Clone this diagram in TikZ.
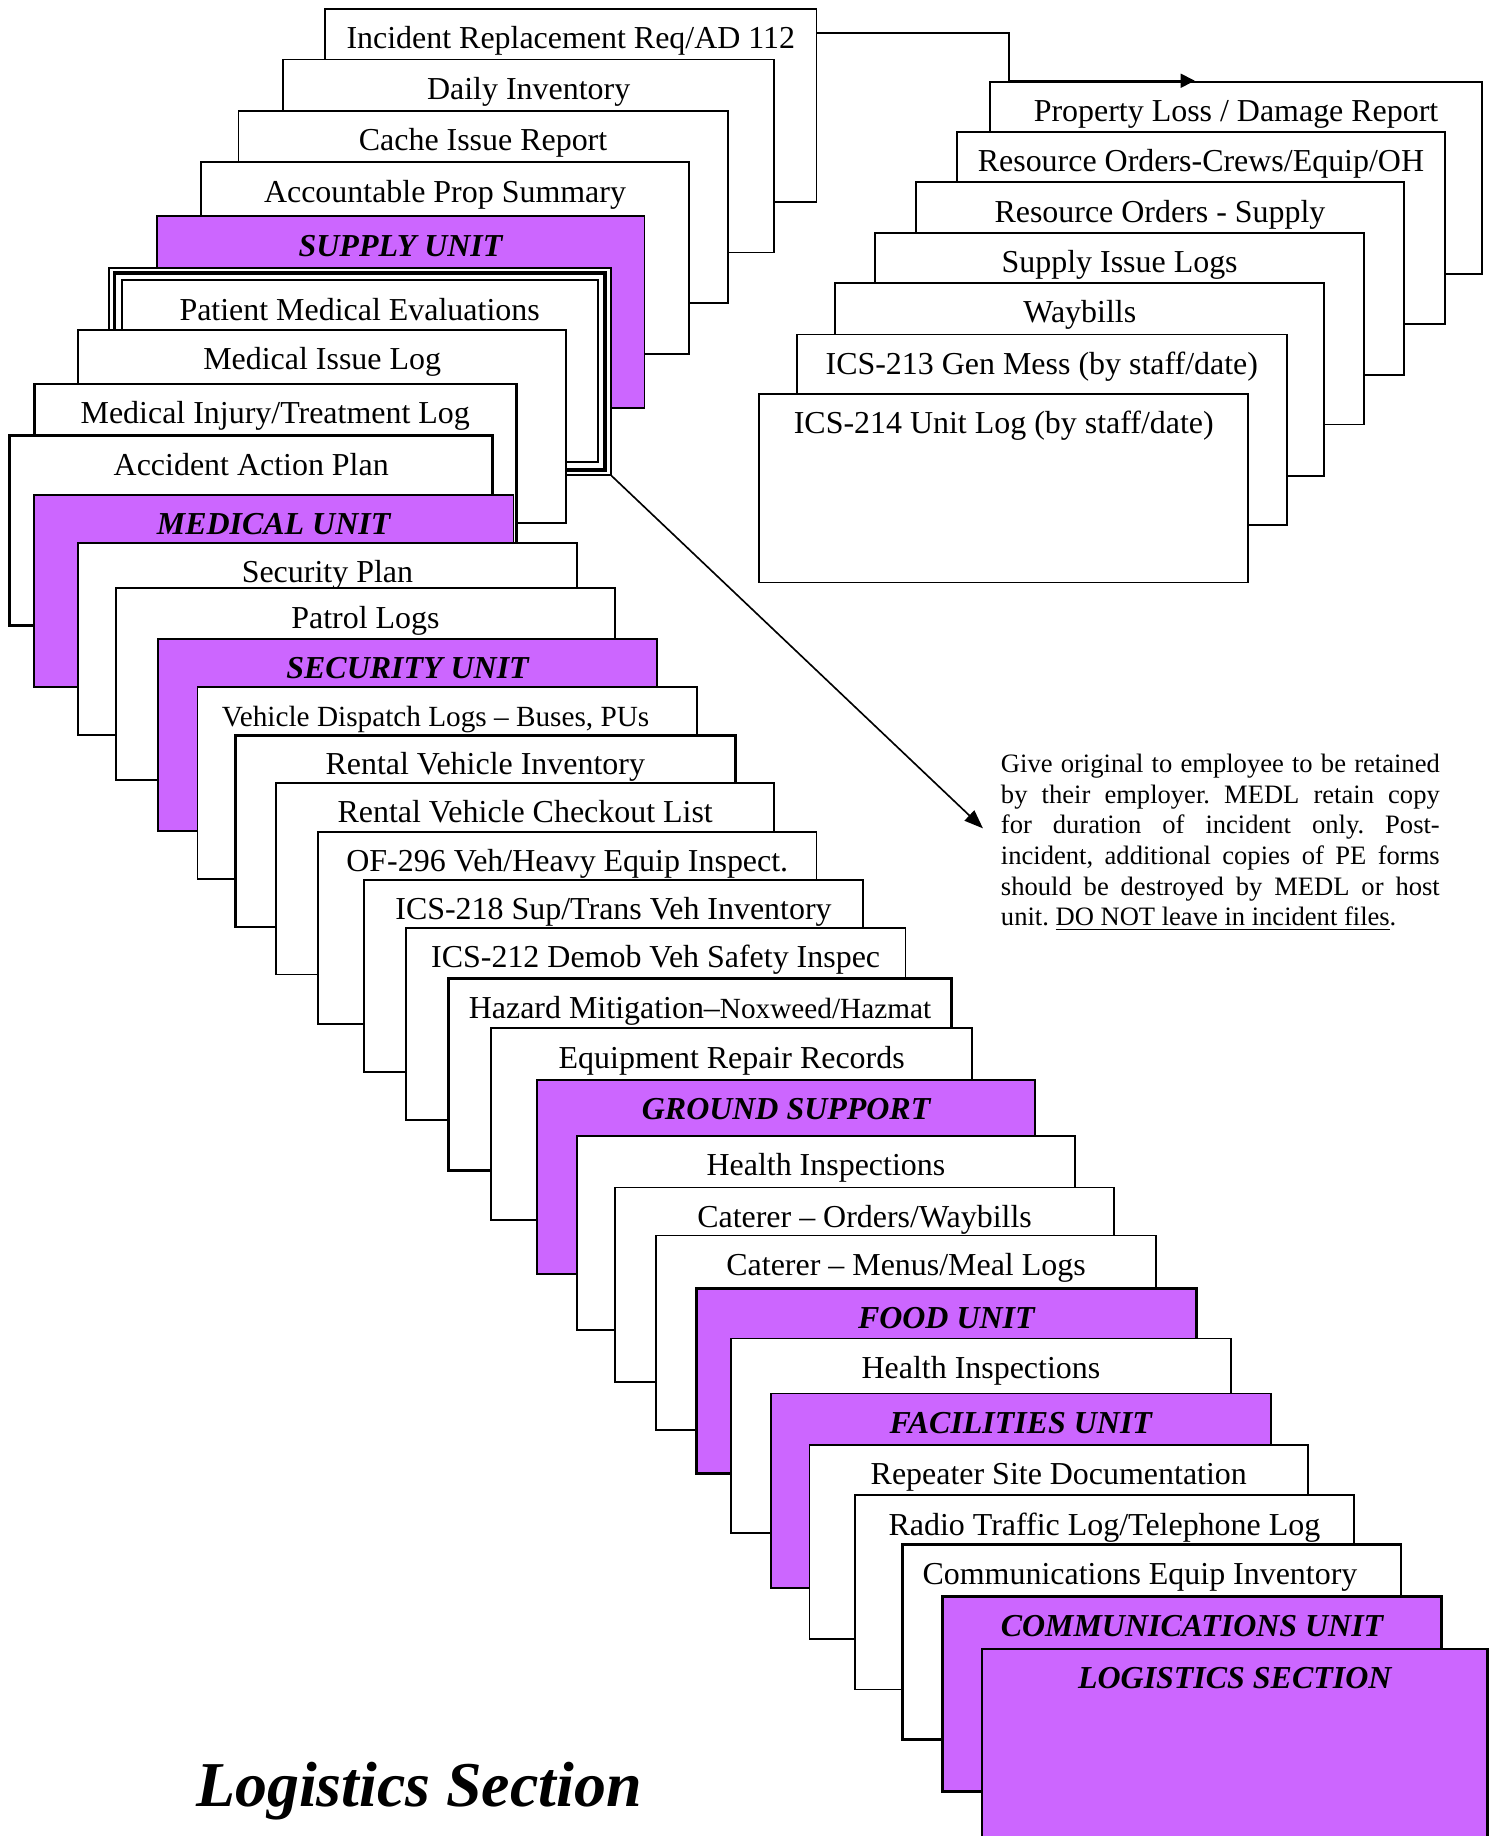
\documentclass[tikz,border=0pt]{standalone}
\usepackage{fontspec}
\setmainfont{Liberation Serif}
\usetikzlibrary{arrows.meta}
\definecolor{unitfill}{RGB}{204,102,255}
\newcommand{\boxfont}{\fontsize{13.65pt}{16pt}\selectfont}
\newcommand{\smallboxfont}{\fontsize{12.5pt}{15pt}\selectfont}
\frenchspacing

\begin{document}
\begin{tikzpicture}[x=0.5pt, y=-0.5pt,
        box/.style = {rectangle, draw, fill=white, line width=0.8pt, anchor=north west,
                      inner xsep=0pt, inner ysep=0pt, minimum width=213pt,
                      text height=17pt, text depth=65pt, font=\boxfont},
       tbox/.style = {box, line width=1.2pt},
       unit/.style = {box, fill=unitfill, font=\boxfont\bfseries\itshape},
       link/.style = {line width=0.7pt}
                    ]
\useasboundingbox (0,0) rectangle (1275,1569);

\node (inc)      [box, minimum width=210pt, text depth=65.5pt] at (277,7)  {Incident Replacement Req/AD 112};
\node (daily)    [box, minimum width=210pt, text depth=65.5pt] at (241,50) {Daily Inventory};
\node (cache)    [box, minimum width=209pt] at (203,94)  {Cache Issue Report};
\node (accprop)  [box, minimum width=208.5pt] at (171,138) {Accountable Prop Summary};
\node (supply)   [unit, minimum width=208.5pt] at (133,184) {SUPPLY UNIT};
\node (pme)      [box, minimum width=214.5pt, text height=22.5pt, text depth=66pt] at (92,228) {Patient Medical Evaluations};
\draw[line width=1.5pt] ([shift={(6,5.5)}]pme.north west) rectangle ([shift={(-5.5,-5)}]pme.south east);
\draw[line width=0.8pt] ([shift={(12,11.5)}]pme.north west) rectangle ([shift={(-11.5,-12)}]pme.south east);
\node (medlog)   [box, minimum width=208.5pt, text depth=65.5pt] at (66,281) {Medical Issue Log};
\node (medinj)   [tbox, minimum width=206pt] at (28,327) {Medical Injury/Treatment Log};
\node (aap)      [tbox, minimum width=206.5pt, text depth=64pt] at (7,371) {Accident Action Plan};
\node (medunit)  [unit, minimum width=205pt] at (28,422) {MEDICAL UNIT};
\node (secplan)  [box] at (66,463) {Security Plan};
\node (patrol)   [box, minimum width=213.5pt] at (98,502) {Patrol Logs};
\node (secunit)  [unit, minimum width=213.5pt] at (134,545) {SECURITY UNIT};
\node (vehdisp)  [box, minimum width=213.5pt] at (168,586) {\smallboxfont Vehicle Dispatch Logs – Buses, PUs\hspace*{10pt}};
\node (rentinv)  [tbox, minimum width=213.5pt] at (200,627) {Rental Vehicle Inventory};
\node (rentchk)  [box] at (235,668) {Rental Vehicle Checkout List};
\node (of296)    [box] at (271,710) {OF-296 Veh/Heavy Equip Inspect.};
\node (ics218)   [box, minimum width=213.5pt] at (310,751) {ICS-218 Sup/Trans Veh Inventory};
\node (ics212)   [box, minimum width=213.5pt] at (346,792) {ICS-212 Demob Veh Safety Inspec};
\node (hazard)   [tbox, minimum width=215pt] at (382,835) {Hazard Mitigation–{\smallboxfont Noxweed/Hazmat}};
\node (equip)    [box, minimum width=205.5pt] at (419,878) {Equipment Repair Records};
\node (ground)   [unit, text depth=66pt] at (458,922) {GROUND SUPPORT};
\node (health)   [box, text depth=66pt] at (492,970) {Health Inspections};
\node (catord)   [box, text depth=66pt] at (525,1014) {Caterer – Orders/Waybills};
\node (catmenu)  [box, minimum width=213.5pt, text depth=66pt] at (560,1055) {Caterer – Menus/Meal Logs};
\node (food)     [unit, line width=1.2pt, minimum width=213.5pt, text depth=62pt] at (594,1100) {FOOD UNIT};
\node (healthb)  [box, minimum width=213.5pt, text depth=66pt] at (624,1143) {Health Inspections};
\node (facil)    [unit, minimum width=213.5pt, text depth=66pt] at (658,1190) {FACILITIES UNIT};
\node (repeater) [box, text depth=66pt] at (691,1234) {Repeater Site Documentation};
\node (radio)    [box, text depth=66pt] at (730,1277) {Radio Traffic Log/Telephone Log};
\node (commeq)   [tbox, text depth=66pt] at (770,1319) {Communications Equip Inventory\hspace*{10pt}};
\node (communit) [unit, line width=1.2pt, minimum width=213.5pt, text depth=66.5pt] at (804,1363) {COMMUNICATIONS UNIT};
\node (logsec)   [unit, line width=1.2pt, minimum width=216pt, text depth=95pt] at (838,1408) {LOGISTICS SECTION};

\node (prop)     [box, minimum width=210.5pt] at (845,69)  {Property Loss / Damage Report};
\node (resc)     [box, minimum width=208.5pt] at (817,112) {Resource Orders-Crews/Equip/OH};
\node (ress)     [box, minimum width=208.5pt, text depth=65.5pt] at (782,155) {Resource Orders - Supply};
\node (supiss)   [box, minimum width=209pt] at (747,198) {Supply Issue Logs};
\node (wayb)     [box, minimum width=209pt, text depth=65.5pt] at (713,241) {Waybills};
\node (ics213)   [box, minimum width=209.5pt, text depth=64.5pt] at (680,285) {ICS-213 Gen Mess (by staff/date)};
\node (ics214)   [box, minimum width=209pt, text depth=63.5pt] at (648,336) {ICS-214 Unit Log (by staff/date)};

\node (note) [anchor=north west, text width=187.5pt, inner sep=0pt, align=justify,
              font=\fontsize{11.35pt}{13.1pt}\selectfont] at (855,644)
  {Give original to employee to be retained\linebreak
   by their employer. MEDL retain copy\linebreak
   for duration of incident only. Post-\linebreak
   incident, additional copies of PE forms\linebreak
   should be destroyed by MEDL or host\linebreak
   unit. \underline{DO NOT leave in incident files}.};

\node (title) [anchor=base, font=\fontsize{27.3pt}{32pt}\selectfont\bfseries\itshape] at (358,1544) {Logistics Section};

\draw[link, -{Triangle[length=6pt, width=6pt]}] ([yshift=-10.5pt]inc.north east) -| ([xshift=8.5pt]prop.north west) -- ([xshift=88pt]prop.north west);
\draw[link, -{Triangle[length=8pt, width=6pt]}] (pme.south east) -- ([xshift=-7.5pt, yshift=6pt]note.west);
\end{tikzpicture}
\end{document}
